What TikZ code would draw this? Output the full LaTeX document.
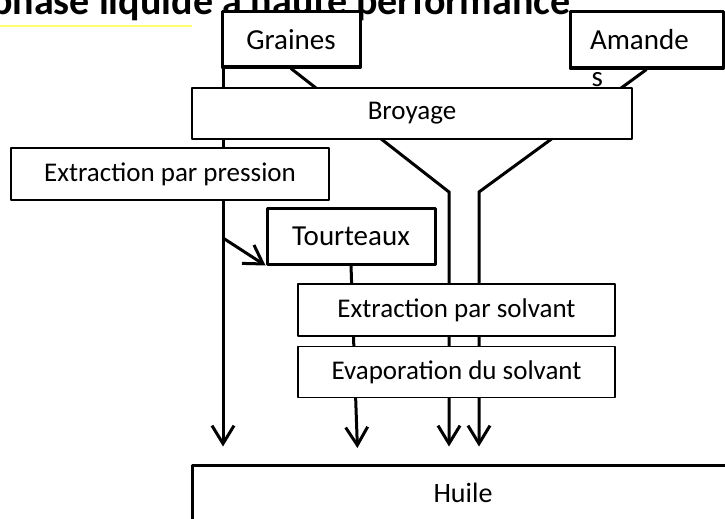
\documentclass[tikz,border=0pt]{standalone}
\usepackage{fontspec}
\setmainfont{Carlito}
\usetikzlibrary{arrows.meta,positioning,shadows,backgrounds}
\definecolor{titleyellow}{RGB}{255,255,110}

\begin{document}
\begin{tikzpicture}[x=1pt,y=-1pt,>={Straight Barb[length=18pt,width=22pt]},
  line join=round,
  thin box/.style={rectangle,draw,fill=white,line width=1.5pt,inner sep=0pt,
  font=\fontsize{27}{32}\selectfont},
  thick box/.style={rectangle,draw,fill=white,line width=3pt,inner sep=0pt,
  drop shadow={opacity=0.25,shadow xshift=1.5pt,shadow yshift=-1.5pt},
  font=\fontsize{29}{35}\selectfont},
  flow/.style={line width=3pt}]
  \useasboundingbox (0,0) rectangle (725,519);

  \node[anchor=base west,inner sep=0pt,font=\bfseries\fontsize{40}{46}\selectfont] (title) at (-9,15) {phase liquide à haute performance};
  \draw[line width=1.5pt,titleyellow] (0,26) -- (192,26);

  \node[thick box,minimum width=138pt,minimum height=55pt] (graines) at (291,39.5) {Graines};
  \node[thick box,minimum width=153pt,minimum height=56pt,text width=113pt,align=left,
    label={[anchor=base west,inner sep=0pt,xshift=23pt,yshift=-17pt,font=\fontsize{29}{35}\selectfont]south west:s}] (amande) at (646.5,40) {Amande};
  \node[thin box,minimum width=440pt,minimum height=51pt] (broyage) at (412,113.5) {Broyage};
  \node[thin box,minimum width=318pt,minimum height=52pt] (pression) at (170,174) {Extraction par pression};
  \node[thick box,minimum width=168pt,minimum height=56pt] (tourteaux) at (351,236) {Tourteaux};
  \node[thin box,minimum width=317pt,minimum height=52pt] (solvant) at (456.5,310) {Extraction par solvant};
  \node[thin box,minimum width=317pt,minimum height=51pt,below=9pt of solvant] (evaporation) {Evaporation du solvant};
  \node[thick box,minimum width=542pt,minimum height=55pt,font=\fontsize{28}{34}\selectfont] (huile) at (463,492.5) {Huile};

  \coordinate (gbend) at (449,192);
  \coordinate (abend) at (479,192);
  \coordinate (pbranch) at (223,238);
  \coordinate (tend) at (358,465);

  \begin{scope}[on background layer]
    \draw[flow,->,shorten >=17pt] (graines.south west -| pbranch) -- (pbranch |- huile.north);
    \draw[flow,->] (pbranch) -- (tourteaux.south west);
    \draw[flow,->,shorten >=17pt] (graines.south) -- (gbend) -- (gbend |- huile.north);
    \draw[flow,->,shorten >=17pt] (amande.south) -- (abend) -- (abend |- huile.north);
    \draw[flow,->,shorten >=17pt] (tourteaux.south) -- (tend);
  \end{scope}
\end{tikzpicture}
\end{document}
